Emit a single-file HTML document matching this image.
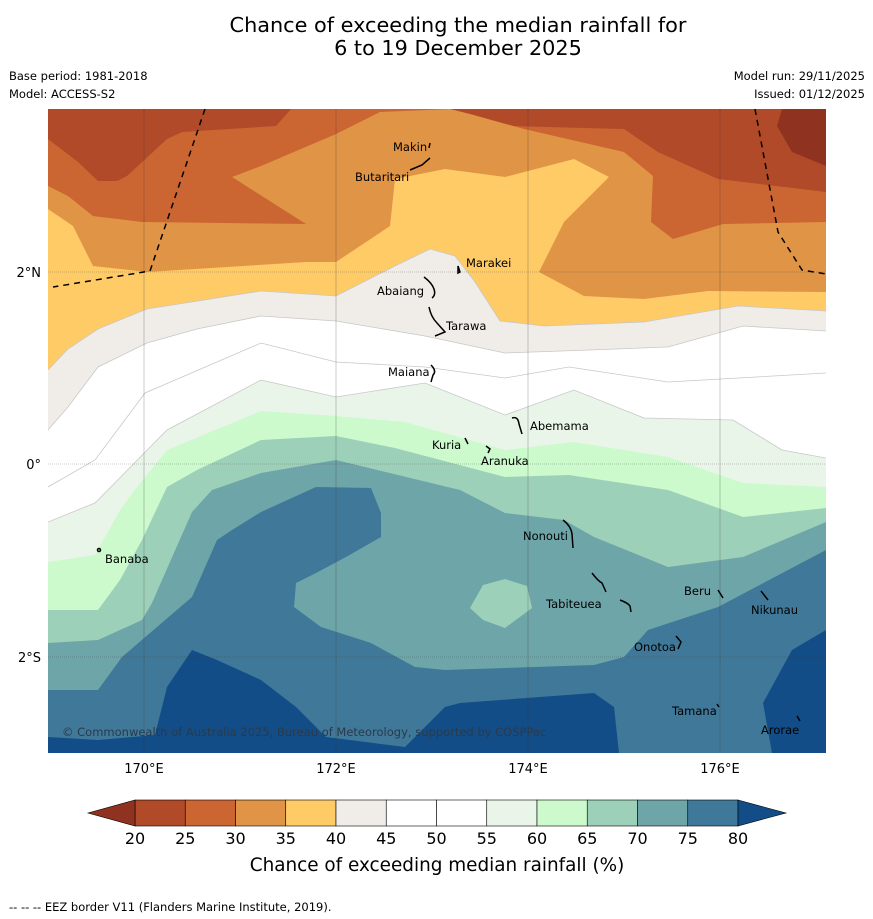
<!DOCTYPE html>
<html><head><meta charset="utf-8"><style>
body{margin:0;background:#fff;font-family:"Liberation Sans","DejaVu Sans",sans-serif;}
svg{display:block}
</style></head><body>
<svg id="root" width="873" height="919" xmlns="http://www.w3.org/2000/svg">
<g font-family="DejaVu Sans, Liberation Sans, sans-serif">
<text x="458" y="32" font-size="20.8" text-anchor="middle">Chance of exceeding the median rainfall for</text>
<text x="458" y="55" font-size="20.8" text-anchor="middle">6 to 19 December 2025</text>
<text x="9" y="80" font-size="11.5">Base period: 1981-2018</text>
<text x="9" y="98" font-size="11.5">Model: ACCESS-S2</text>
<text x="865" y="80" font-size="11.5" text-anchor="end">Model run: 29/11/2025</text>
<text x="865" y="98" font-size="11.5" text-anchor="end">Issued: 01/12/2025</text>
</g>
<defs><clipPath id="mapclip"><rect x="48" y="109" width="778" height="644"/></clipPath></defs>
<g id="map" clip-path="url(#mapclip)">
<rect x="48" y="109" width="778" height="644" fill="#cb6532"/>
<polygon fill="#b04a28" points="48,109 291,109 276,126 182,132 167,139 127,176 117,181 98,181 78,162 48,139"/>
<polygon fill="#b04a28" points="445,109 826,109 826,192 718,179 658,152 624,129 510,126 460,116"/>
<polygon fill="#8f3320" points="782,109 826,109 826,166 792,152 777,126"/>
<g id="bands"></g>
<polygon fill="#9dd0b8" points="470,608 483,585 505,579 527,586 532,608 505,628 483,620"/>
<g id="lines" fill="none" stroke="#c8c8c8" stroke-width="0.8"></g>
<g stroke="#333" stroke-opacity="0.5" stroke-width="0.5" fill="none">
<line x1="144" y1="109" x2="144" y2="753"/>
<line x1="336" y1="109" x2="336" y2="753"/>
<line x1="528" y1="109" x2="528" y2="753"/>
<line x1="720" y1="109" x2="720" y2="753"/>
<line x1="48" y1="272" x2="826" y2="272" stroke-dasharray="1,1"/>
<line x1="48" y1="464" x2="826" y2="464" stroke-dasharray="1,1"/>
<line x1="48" y1="657" x2="826" y2="657" stroke-dasharray="1,1"/>
</g>
<g stroke="#000" stroke-width="1.5" fill="none" stroke-dasharray="6,5">
<polyline points="205,109 150,271 53,287"/>
<polyline points="755,109 778,232 802,270 826,274"/>
</g>
<g stroke="#000" stroke-width="1.5" fill="none">
<path d="M430,143 l-1,5" /><path d="M430,158 l-8,7 l-12,5"/><path d="M458,266 l2,6 l-2,1z"/>
<path d="M424,277 q8,6 10,12 q2,6 -2,9"/><path d="M429,307 q2,10 8,16 l8,9 l-10,4"/>
<path d="M431,365 q6,6 2,10 l-2,7"/><path d="M512,418 q6,-2 7,6 l3,10"/><path d="M465,438 l3,6"/>
<path d="M486,446 l4,3 l-2,4"/><path d="M563,520 q8,6 9,14 l1,14"/><circle cx="99" cy="550" r="1.5"/>
<path d="M592,573 q6,8 10,10 l4,9"/><path d="M620,600 q8,3 10,6 l1,6"/><path d="M718,590 l5,8"/>
<path d="M761,591 l7,9"/><path d="M676,636 l5,6 l-3,7"/><path d="M717,704 l2,3"/><path d="M797,716 l3,5"/>
</g>
<g font-size="11.5" font-family="DejaVu Sans, Liberation Sans, sans-serif" fill="#000">
<text x="393" y="151">Makin</text>
<text x="355" y="181">Butaritari</text>
<text x="466" y="267">Marakei</text>
<text x="377" y="295">Abaiang</text>
<text x="446" y="330">Tarawa</text>
<text x="388" y="376">Maiana</text>
<text x="530" y="430">Abemama</text>
<text x="432" y="449">Kuria</text>
<text x="481" y="465">Aranuka</text>
<text x="523" y="540">Nonouti</text>
<text x="105" y="563">Banaba</text>
<text x="546" y="608">Tabiteuea</text>
<text x="684" y="595">Beru</text>
<text x="751" y="614">Nikunau</text>
<text x="634" y="651">Onotoa</text>
<text x="672" y="715">Tamana</text>
<text x="761" y="734">Arorae</text>
<text x="62" y="736" fill="#2a3a4a">© Commonwealth of Australia 2025, Bureau of Meteorology, supported by COSPPac</text>
</g>
</g>
<g font-size="13" font-family="DejaVu Sans, Liberation Sans, sans-serif" fill="#000">
<text x="144" y="773" text-anchor="middle">170°E</text>
<text x="336" y="773" text-anchor="middle">172°E</text>
<text x="528" y="773" text-anchor="middle">174°E</text>
<text x="720" y="773" text-anchor="middle">176°E</text>
<text x="41" y="277" text-anchor="end">2°N</text>
<text x="41" y="469" text-anchor="end">0°</text>
<text x="41" y="662" text-anchor="end">2°S</text>
</g>
<g id="colorbar"></g>
<text x="437" y="871" font-size="18.4" text-anchor="middle" font-family="DejaVu Sans, Liberation Sans, sans-serif">Chance of exceeding median rainfall (%)</text>
<text x="9" y="911" font-size="11.5" font-family="DejaVu Sans, Liberation Sans, sans-serif">--  --  -- EEZ border V11 (Flanders Marine Institute, 2019).</text>
</svg>
<script>
const levels=[20,25,30,35,40,45,50,55,60,65,70,75,80];
const bandColors=["#b04a28","#cb6532","#e09445","#fecb66","#f0ede8","#ffffff","#ffffff","#eaf5ea","#ccfacc","#9dd0b8","#6ea5a8","#3f7898"];
const underColor="#8f3320", overColor="#134d87";
const NS="http://www.w3.org/2000/svg";
const bounds=[
 [30,"#e09445",[[48,186],[68,196],[93,216],[142,222],[306,224],[232,177],[261,166],[336,134],[380,112],[450,109],[470,114],[524,129],[624,152],[653,176],[651,222],[673,239],[723,224],[826,222]]],
 [35,"#fecb66",[[48,209],[73,226],[93,266],[147,272],[306,262],[336,262],[390,226],[395,179],[445,169],[505,177],[574,159],[609,177],[564,222],[539,272],[584,296],[644,299],[708,291],[826,292]]],
 [40,"#f0ede8",[[48,370],[68,349],[98,329],[147,309],[261,291],[336,296],[395,266],[430,249],[455,256],[475,282],[500,321],[544,326],[644,322],[738,306],[826,311]]],
 [45,"#ffffff",[[48,430],[68,407],[98,367],[147,343],[197,329],[261,316],[336,321],[425,336],[505,353],[590,350],[668,347],[743,326],[826,331]]],
 [55,"#eaf5ea",[[48,522],[95,503],[167,430],[261,380],[336,397],[425,383],[505,415],[574,390],[644,418],[733,420],[782,450],[826,458]]],
 [60,"#ccfacc",[[48,562],[95,555],[120,510],[137,487],[167,450],[261,411],[336,416],[405,422],[505,450],[574,442],[668,457],[743,483],[826,487]]],
 [65,"#9dd0b8",[[48,610],[98,610],[120,580],[142,540],[167,487],[197,470],[261,440],[336,436],[395,448],[505,477],[569,475],[668,490],[743,517],[826,508]]],
 [70,"#6ea5a8",[[48,643],[98,640],[142,620],[152,603],[162,580],[192,512],[212,490],[261,473],[336,460],[460,490],[505,513],[564,520],[594,537],[668,567],[743,557],[826,522]]],
 [75,"#3f7898",[[48,690],[98,690],[122,657],[192,597],[217,540],[232,530],[261,512],[316,487],[371,488],[381,513],[381,537],[346,557],[316,573],[296,583],[294,607],[321,627],[371,643],[415,667],[445,670],[594,665],[624,657],[648,630],[718,607],[826,550]]],
 [80,"#134d87",[[48,737],[98,740],[155,735],[167,687],[192,650],[217,660],[261,680],[296,707],[326,737],[405,747],[445,707],[460,703],[594,693],[614,707],[619,753]]]
];
const bandsG=document.getElementById('bands');
bounds.forEach(b=>{
  const p=document.createElementNS(NS,'polygon');
  const pts=b[2].slice();
  const last=pts[pts.length-1];
  if(last[1]<753) pts.push([last[0],753]);
  pts.push([48,753]);
  p.setAttribute('points',pts.map(q=>q.join(',')).join(' '));
  p.setAttribute('fill',b[1]);
  
  
  bandsG.appendChild(p);
});
const e=document.createElementNS(NS,'polygon');
e.setAttribute('points','826,630 792,650 763,703 772,753 826,753');
e.setAttribute('fill',overColor);


bandsG.appendChild(e);
const lg=document.getElementById('lines');
[[[48,487],[95,460],[145,393],[261,343],[336,362],[425,367],[505,378],[569,367],[668,382],[826,373]],
 bounds[3][2],bounds[4][2],bounds[2][2]].forEach((l,i)=>{
  const pl=document.createElementNS(NS,'polyline');
  pl.setAttribute('points',l.map(q=>q.join(',')).join(' '));
  
  
  lg.appendChild(pl);
});
const cb=document.getElementById('colorbar');
const x0=135,x1=738,y0=800,h=26;
function cx(v){return x0+(v-levels[0])/(levels[levels.length-1]-levels[0])*(x1-x0);}
bandColors.forEach((c,i)=>{
  const r=document.createElementNS(NS,'rect');
  r.setAttribute('x',cx(levels[i]));r.setAttribute('y',y0);
  r.setAttribute('width',cx(levels[i+1])-cx(levels[i]));r.setAttribute('height',h);
  r.setAttribute('fill',c);r.setAttribute('stroke','#000');r.setAttribute('stroke-width','0.6');
  
  
  cb.appendChild(r);
});
const tl=document.createElementNS(NS,'polygon');
tl.setAttribute('points',`${x0},${y0} ${x0},${y0+h} 88,${y0+h/2}`);
tl.setAttribute('fill',underColor);tl.setAttribute('stroke','#000');tl.setAttribute('stroke-width','0.6');


cb.appendChild(tl);
const tr=document.createElementNS(NS,'polygon');
tr.setAttribute('points',`${x1},${y0} ${x1},${y0+h} 786,${y0+h/2}`);
tr.setAttribute('fill',overColor);tr.setAttribute('stroke','#000');tr.setAttribute('stroke-width','0.6');


cb.appendChild(tr);
levels.forEach(v=>{
  const t=document.createElementNS(NS,'text');
  t.setAttribute('x',cx(v));t.setAttribute('y',844);
  t.setAttribute('text-anchor','middle');t.setAttribute('font-size','16');
  t.setAttribute('font-family','DejaVu Sans, Liberation Sans, sans-serif');
  
  
  t.textContent=v;
  cb.appendChild(t);
});
</script>
</body></html>
